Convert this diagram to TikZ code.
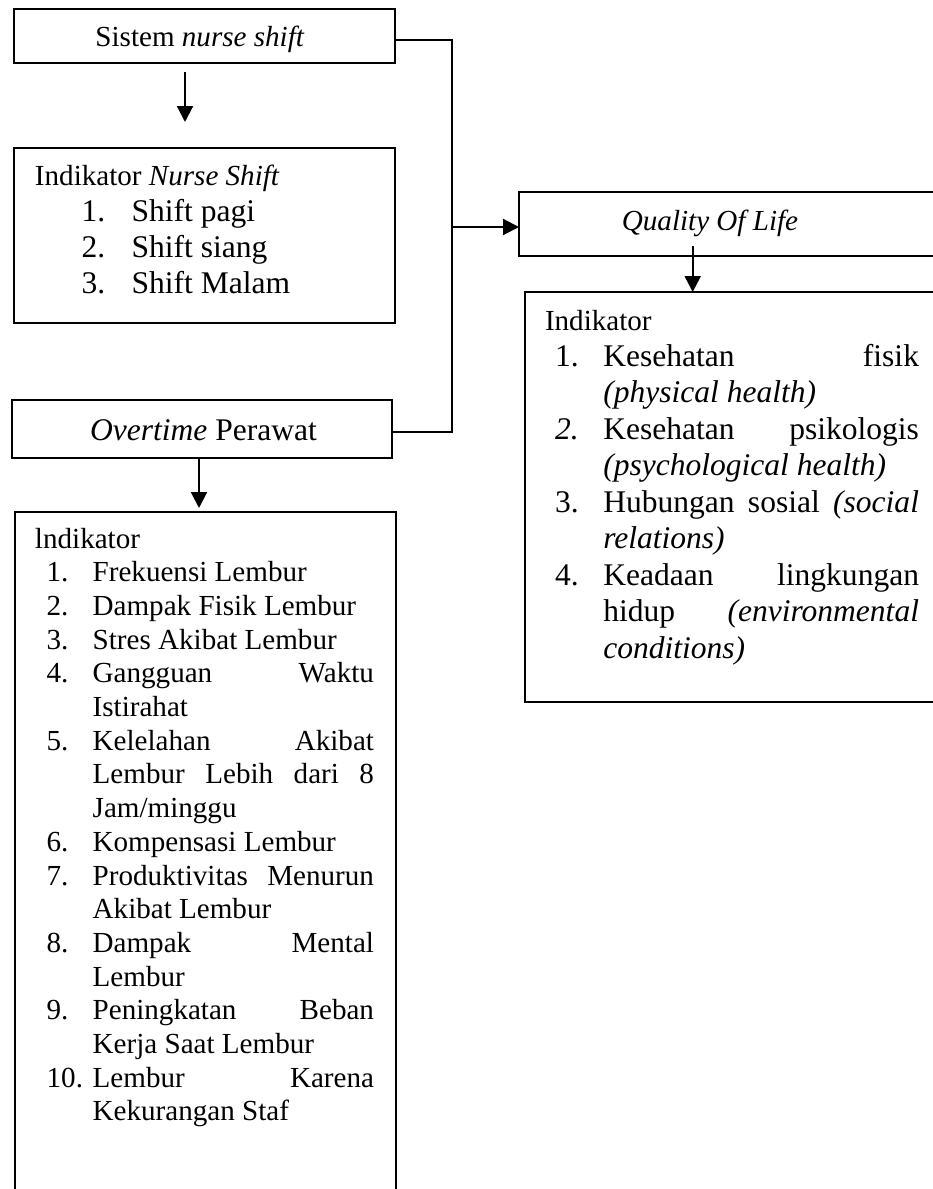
\documentclass[tikz,border=0pt]{standalone}
\usepackage{fontspec}
\setmainfont{Liberation Serif}
\usetikzlibrary{arrows.meta}
\newdimen\pxu \pxu=0.4124pt
\newcommand{\bxA}[1]{\hspace*{11.7\pxu}\makebox[46\pxu][l]{#1}}
\newcommand{\bxAc}{\hspace*{57.7\pxu}}
\newcommand{\jA}[1]{\makebox[281.3\pxu][s]{#1}}
\newcommand{\bxB}[1]{\hspace*{10\pxu}\makebox[48.3\pxu][l]{#1}}
\newcommand{\bxBc}{\hspace*{58.3\pxu}}
\newcommand{\jB}[1]{\makebox[315.7\pxu][s]{#1}}
\newcommand{\bxC}[1]{\hspace*{46.7\pxu}\makebox[50\pxu][l]{#1}}
\tikzset{
  box/.style={draw, line width=0.85pt, inner sep=0pt, outer sep=0pt},
  ln/.style={line width=0.85pt},
  arr/.style={line width=0.85pt, -{Triangle[length=6.5pt,width=6.5pt]}},
  txt/.style={inner sep=0pt, outer sep=0pt, anchor=base west}
}
\begin{document}
\begin{tikzpicture}[x=0.4124pt, y=-0.4124pt]
\useasboundingbox (0,0) rectangle (933,1189);
\clip (0,0) rectangle (933,1189);
% boxes
\node[box, minimum width=381\pxu, minimum height=54\pxu] (b1) at (204.5,36) {};
\node[box, minimum width=381\pxu, minimum height=175\pxu] (b2) at (204.5,235.5) {};
\node[box, minimum width=426\pxu, minimum height=64\pxu] (qol) at (732,224) {};
\node[box, minimum width=420\pxu, minimum height=410\pxu] (b4) at (735,497) {};
\node[box, minimum width=380\pxu, minimum height=58\pxu] (ot) at (202,429) {};
\node[box, minimum width=381\pxu, minimum height=688\pxu] (b5) at (205.5,856) {};
% titles
\node[txt, anchor=base] (t1) at (200,47) {\fontsize{12pt}{13.8pt}\selectfont Sistem \textit{nurse shift}};
\node[txt, anchor=base] (t3) at (710,230) {\fontsize{12pt}{13.8pt}\selectfont \textit{Quality Of Life}};
\node[txt, anchor=base] (tot) at (203.5,440) {\fontsize{13pt}{15pt}\selectfont \textit{Overtime} Perawat};
% box 2 text
\node[txt] (t2) at (35,185) {\parbox[t]{400\pxu}{\fontsize{12pt}{14.85pt}\selectfont Indikator \textit{Nurse Shift}\\
\fontsize{13pt}{14.85pt}\selectfont
\bxC{1.}Shift pagi\\
\bxC{2.}Shift siang\\
\bxC{3.}Shift Malam}};
% box 4 text
\node[txt] (t4) at (545,330) {\parbox[t]{400\pxu}{\fontsize{12pt}{15.05pt}\selectfont Indikator\\
\fontsize{13pt}{15.05pt}\selectfont
\bxB{1.}\jB{Kesehatan fisik}\\
\bxBc\textit{(physical health)}\\
\bxB{\textit{2.}}\jB{Kesehatan psikologis}\\
\bxBc\textit{(psychological health)}\\
\bxB{3.}\jB{Hubungan sosial \textit{(social}}\\
\bxBc\textit{relations)}\\
\bxB{4.}\jB{Keadaan lingkungan}\\
\bxBc\jB{hidup \textit{(environmental}}\\
\bxBc\textit{conditions)}}};
% box 5 text
\node[txt] (t5) at (35,548) {\parbox[t]{400\pxu}{\fontsize{12pt}{13.9pt}\selectfont
lndikator\\
\bxA{1.}Frekuensi Lembur\\
\bxA{2.}Dampak Fisik Lembur\\
\bxA{3.}Stres Akibat Lembur\\
\bxA{4.}\jA{Gangguan Waktu}\\
\bxAc Istirahat\\
\bxA{5.}\jA{Kelelahan Akibat}\\
\bxAc\jA{Lembur Lebih dari 8}\\
\bxAc Jam/minggu\\
\bxA{6.}Kompensasi Lembur\\
\bxA{7.}\jA{Produktivitas Menurun}\\
\bxAc Akibat Lembur\\
\bxA{8.}\jA{Dampak Mental}\\
\bxAc Lembur\\
\bxA{9.}\jA{Peningkatan Beban}\\
\bxAc Kerja Saat Lembur\\
\bxA{10.}\jA{Lembur Karena}\\
\bxAc Kekurangan Staf}};
% connectors
\coordinate (j1) at (452,40);
\coordinate (j2) at (452,432);
\coordinate (jm) at (452,227);
\draw[ln] (b1.east |- j1) -- (j1) -- (j2) -- (ot.east |- j2);
\draw[arr] (jm) -- (qol.west |- jm);
\coordinate (a1s) at (185,72);
\coordinate (a1e) at (185,122);
\draw[arr] (a1s) -- (a1e);
\coordinate (a2s) at (692.7,246);
\draw[arr] (a2s) -- (a2s |- b4.north);
\coordinate (a3e) at (199,508);
\draw[arr] (ot.south -| a3e) -- (a3e);
\end{tikzpicture}
\end{document}
